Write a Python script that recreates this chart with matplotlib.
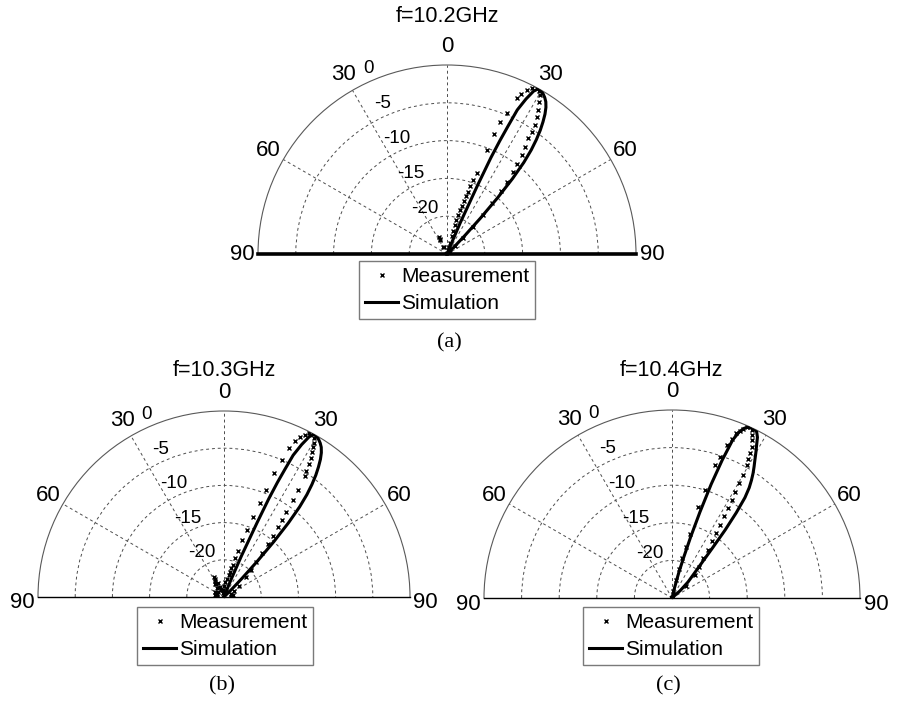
import numpy as np
import matplotlib.pyplot as plt
from matplotlib.lines import Line2D

plt.rcParams['font.family'] = ['Liberation Sans', 'DejaVu Sans']

W, H = 897, 707
R_MIN, R_MAX = -25, 0

# --- data: angle from broadside (deg), level (dB) ---
titles = ['f=10.2GHz', 'f=10.3GHz', 'f=10.4GHz']
captions = ['(a)', '(b)', '(c)']
theta_ticks = [-90, -60, -30, 0, 30, 60, 90]
theta_labels = ['90', '60', '30', '0', '30', '60', '90']
r_ticks = [0, -5, -10, -15, -20]
r_labels = ['0', '-5', '-10', '-15', '-20']

sim_a_theta = [-90, -40, -30, -20, 0, 15, 19, 21, 22, 23, 24, 24.5, 25, 25.5, 26, 27, 28, 29,
               30, 31, 32, 33, 34, 35, 36, 37, 38, 39, 40, 41, 42, 43, 44, 45, 47, 60, 90]
sim_a_db = [-40, -30, -28, -30, -32, -30, -28, -26, -24, -20.5, -15, -11, -8.5, -6.3, -3.8,
            -2.0, -0.6, 0, -0.1, -0.3, -0.6, -1.0, -1.6, -2.4, -3.4, -4.5, -5.8, -7.3, -9.2,
            -11.8, -15, -18.5, -21.5, -23.5, -25.5, -30, -40]
meas_a_theta = [-90, -70, -50, -35, -28, -26, -25, -24, -22, -15, 0, 8, 11, 12, 13, 14, 14.5,
                15, 15.5, 16, 16.5, 17, 17.5, 18, 18.5, 19, 19.5, 20.2, 20.9, 21.4, 21.8, 23,
                24.1, 24.9, 25.9, 27, 28.3, 29.4, 30.3, 31.2, 32.4, 33.2, 34.3, 34.7, 35.1, 36,
                37, 38.1, 38.9, 39.5, 40.5, 41.5, 42.5, 43.5, 45, 47.5, 50, 60, 75, 90]
meas_a_db = [-30, -30, -30, -28, -24, -23, -22.5, -22.8, -24, -28, -27, -26, -24.5, -24, -23.5,
             -22.5, -21.8, -21, -20.3, -19.6, -18.9, -18.3, -17.7, -17, -16.3, -15.5, -14.6,
             -13.6, -10.3, -8, -6.2, -4.8, -2.4, -1.6, -0.9, -0.3, 0, -0.2, -0.6, -1.45, -2.45,
             -3.3, -4.3, -5.3, -6.3, -7.45, -8.6, -9.9, -11, -12.6, -14, -16, -18, -20, -22,
             -23.5, -24.5, -26, -28, -30]

sim_b_theta = [-90, -40, -30, -20, 0, 15, 19, 21, 22, 23, 24, 24.5, 25, 25.5, 26, 27, 28, 29,
               30, 31, 32, 33, 34, 35, 36, 37, 38, 39, 40, 41, 42, 43, 44, 45, 47, 60, 90]
sim_b_db = [-40, -30, -27, -30, -32, -28, -26, -24.5, -22.5, -19, -14, -10.5, -8, -6, -3.8,
            -2.0, -0.6, 0, -0.1, -0.3, -0.6, -1.0, -1.6, -2.4, -3.4, -4.5, -5.8, -7.3, -9.2,
            -11.8, -15, -18.5, -21.5, -23.5, -25.5, -30, -40]
meas_b_theta = [-90, -80, -70, -60, -50, -40, -35, -32, -30, -28, -26, -24, -22, -20, -15,
                -10, -5, 0, 5, 10, 12, 13, 14, 15, 16, 17, 18, 19, 20, 20.7, 21.4, 22.1, 22.8,
                23.5, 24.5, 25.5, 26.5, 27.5, 28.5, 29.5, 30.2, 30.8, 31.4, 32, 32.6, 33.2,
                33.8, 34.4, 35.2, 36, 36.8, 37.6, 38.6, 39.8, 41.2, 43, 45, 48, 52, 60, 70, 80, 90]
meas_b_db = [-24, -23.8, -24, -23.6, -24, -23.5, -22.8, -23, -22.5, -22, -22.3, -23, -23.5,
             -24, -24.5, -24, -24, -23.5, -23, -22.5, -22, -21.5, -21, -20.5, -19.5, -18.5,
             -17, -15.5, -13.5, -11.5, -9.5, -7, -5, -3.2, -2, -1.2, -0.6, -0.2, 0, -0.4, -1,
             -1.6, -2.2, -3, -3.8, -4.8, -5.5, -7.5, -9, -10.8, -12, -13.2, -14.5, -15.8, -17.2,
             -18.6, -19.8, -21, -22.5, -23.5, -24, -23.8, -24]

sim_c_theta = [-90, -40, -20, 0, 10, 13, 14, 15, 16, 17, 18, 19, 20, 21, 22, 23, 24, 25, 26,
               27, 28, 29, 30, 31, 32, 33, 34, 35, 36, 37, 38, 39, 40, 42, 45, 48, 51, 60, 90]
sim_c_db = [-40, -32, -30, -30, -28, -25.5, -23.5, -21.5, -19.5, -16.5, -13, -9, -5.5, -2.5,
            -1.2, -0.5, -0.1, 0, 0, -0.2, -0.8, -1.8, -2.7, -3.6, -4.4, -5.2, -6.1, -7.1, -8.5,
            -10.8, -13.5, -16.5, -18.5, -20.5, -22, -23.5, -25, -30, -40]
meas_c_theta = [-90, -60, -30, 0, 8, 11, 13, 14, 14.5, 15, 15.5, 16.1, 17, 17.9, 18.8, 19.9,
                20.6, 21.4, 22.2, 22.9, 23.7, 24.5, 25.5, 26.2, 26.8, 27.8, 28.3, 28.8, 29.3,
                30.1, 30.4, 30.7, 31.4, 32.1, 32.7, 33.3, 34.2, 35.2, 36.7, 38.3, 41, 45, 50, 60, 90]
meas_c_db = [-30, -30, -28, -27, -25.5, -24, -22.5, -21, -19.5, -18, -16.1, -12.4, -10, -6.4,
             -5.2, -3.4, -2.4, -1.5, -1.0, -0.6, -0.2, 0, -0.3, -0.9, -1.5, -2.3, -3.1, -3.9,
             -4.7, -6.1, -7.3, -8.6, -9.8, -10.9, -12.1, -13.4, -14.6, -15.8, -17.1, -18.3,
             -19.5, -20.7, -22.5, -25, -30]

# panel placement in pixels: centre x, centre y (from top), radius
panels = [
    dict(c=(447, 254), R=189, base_lw=2.6, leg=(359, 261), title_y=16, cap=(449, 343), dy90=-1),
    dict(c=(224, 597), R=186, base_lw=1.0, leg=(137, 607), title_y=370, cap=(222, 686), dy90=-6),
    dict(c=(672, 598), R=188, base_lw=1.0, leg=(583, 607), title_y=370, cap=(668, 686), dy90=-6),
]
data = [(sim_a_theta, sim_a_db, meas_a_theta, meas_a_db),
        (sim_b_theta, sim_b_db, meas_b_theta, meas_b_db),
        (sim_c_theta, sim_c_db, meas_c_theta, meas_c_db)]

fig = plt.figure(figsize=(W / 100, H / 100), dpi=100)

grid_kw = dict(color='0.3', linewidth=0.7, linestyle=(0, (3, 3)))

for i, p in enumerate(panels):
    cx, cy = p['c']
    R = p['R']
    ax = fig.add_axes([(cx - R) / W, (H - cy - 0.5 * R) / H, 2 * R / W, 2 * R / H],
                      projection='polar')
    ax.set_theta_zero_location('N')
    ax.set_theta_direction(-1)
    ax.set_thetamin(-90)
    ax.set_thetamax(90)
    ax.set_rlim(R_MIN, R_MAX)
    ax.set_xticks(np.deg2rad([-60, -30, 0, 30, 60]))
    ax.set_yticks([-20, -15, -10, -5])
    ax.set_xticklabels([])
    ax.set_yticklabels([])
    ax.tick_params(length=0)
    ax.grid(True, **grid_kw)
    ax.spines['polar'].set_color('0.35')
    ax.spines['polar'].set_linewidth(0.8)
    for s in ('start', 'end'):
        ax.spines[s].set_color('black')
        ax.spines[s].set_linewidth(p['base_lw'])

    st, sd, mt, md = data[i]
    ax.plot(np.deg2rad(st), np.clip(sd, R_MIN, R_MAX), color='black', lw=2.2,
            label='Simulation', zorder=3)
    ax.plot(np.deg2rad(mt), np.clip(md, R_MIN, R_MAX), linestyle='none', marker='x',
            ms=3.5, mew=1.0, color='black', label='Measurement', zorder=4)

    # angle labels
    for a, lab in zip(theta_ticks, theta_labels):
        f = {0: 1.10, 30: 1.095, 60: 1.09, 90: 1.085}[abs(a)]
        off = p['dy90'] if abs(a) == 90 else 0
        ax.annotate(lab, xy=(np.deg2rad(a), R_MIN + (R_MAX - R_MIN) * f), xytext=(0, off),
                    textcoords='offset pixels', ha='center', va='center', fontsize=16,
                    annotation_clip=False)
    # radial labels
    for rv, lab in zip(r_ticks, r_labels):
        ax.annotate(lab, xy=(np.deg2rad(-22), rv), xytext=(-8, 10), textcoords='offset pixels',
                    ha='center', va='center', fontsize=13.5, annotation_clip=False)

    fig.text(cx / W, 1 - p['title_y'] / H, titles[i], ha='center', va='center', fontsize=15.5)

    handles = [Line2D([], [], linestyle='none', marker='x', ms=3.5, mew=1.0, color='black'),
               Line2D([], [], color='black', lw=2.2)]
    lx, ly = p['leg']
    leg = fig.legend(handles, ['Measurement', 'Simulation'], loc='upper left',
                     bbox_to_anchor=(lx / W, 1 - ly / H), bbox_transform=fig.transFigure,
                     fontsize=15, frameon=True, fancybox=False, borderaxespad=0,
                     borderpad=0.28, labelspacing=0.4, handlelength=1.6, handletextpad=0.15)
    leg.get_frame().set_edgecolor('0.35')
    leg.get_frame().set_linewidth(1.0)

    fig.text(p['cap'][0] / W, 1 - p['cap'][1] / H, captions[i], ha='center', va='center',
             fontsize=16, family='Liberation Serif')

fig.savefig('out.png', dpi=100)
